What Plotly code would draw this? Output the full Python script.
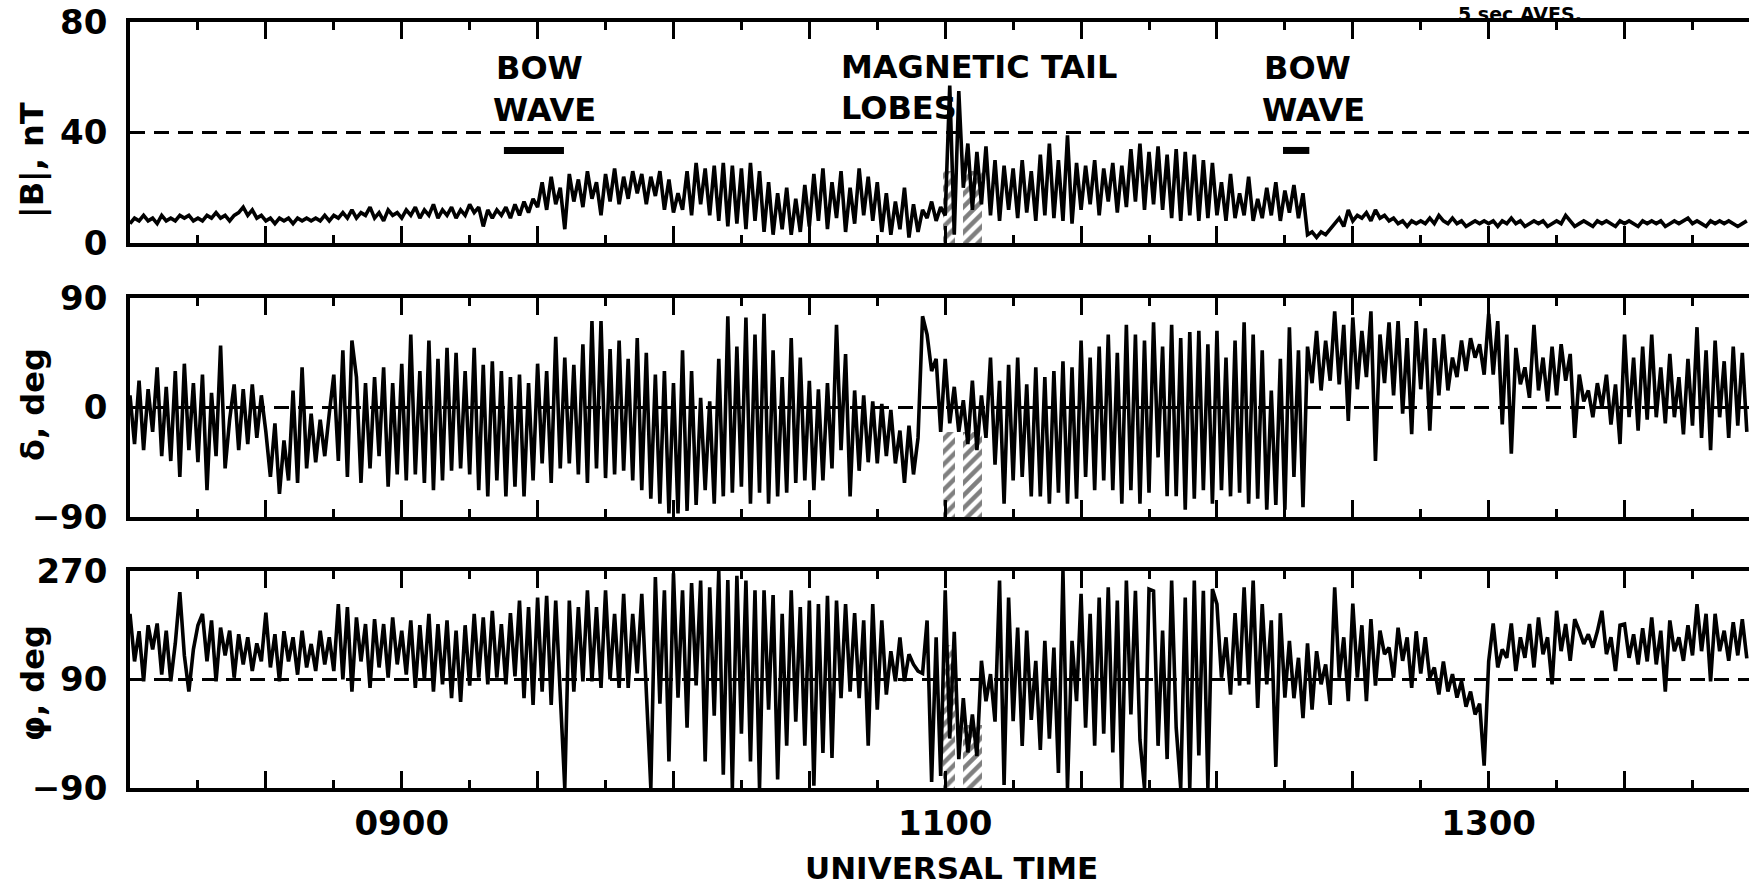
import numpy as np
import plotly.graph_objects as go

# ---------------- data ----------------
start_hour = 8.0          # 0800 UT, one value per minute
step_minutes = 1.0

# |B| in nT, one row per half hour (0800, 0830, ... 1330)
b_total = [
    7, 9, 8, 10, 8, 9, 7, 10, 8, 9, 8, 10, 9, 10, 8, 9, 8, 10, 9, 11, 9, 10, 8, 10, 11, 13, 10, 12, 9, 10,
    8, 9, 7, 9, 8, 9, 7, 9, 8, 9, 8, 9, 8, 10, 8, 10, 9, 11, 9, 12, 9, 11, 10, 13, 9, 11, 8, 12, 10, 11,
    9, 12, 10, 13, 9, 12, 10, 14, 9, 12, 10, 13, 9, 12, 10, 14, 11, 13, 6, 12, 9, 12, 10, 13, 9, 14, 10, 15, 11, 16,
    13, 22, 12, 24, 14, 20, 5, 25, 15, 23, 13, 26, 16, 22, 10, 25, 15, 27, 14, 24, 16, 26, 18, 25, 14, 24, 17, 26, 12, 23,
    11, 18, 12, 26, 10, 29, 14, 27, 10, 28, 8, 29, 6, 28, 7, 27, 5, 29, 8, 26, 4, 22, 3, 18, 5, 20, 3, 16, 4, 21,
    6, 25, 8, 27, 5, 22, 9, 26, 4, 20, 7, 27, 10, 24, 8, 22, 4, 18, 3, 15, 5, 20, 2, 14, 4, 12, 9, 15, 8, 13,
    10, 57, 3, 55, 20, 36, 12, 33, 14, 35, 10, 30, 8, 28, 12, 27, 9, 30, 11, 26, 8, 32, 10, 36, 9, 30, 8, 39, 7, 29,
    12, 28, 14, 30, 10, 27, 15, 29, 11, 28, 13, 34, 15, 36, 12, 33, 14, 35, 12, 32, 9, 34, 8, 33, 10, 32, 8, 30, 9, 29,
    10, 22, 8, 25, 9, 18, 10, 24, 8, 16, 9, 20, 10, 22, 8, 19, 11, 21, 9, 18, 3, 4, 2, 4, 3, 5, 7, 9, 6, 12,
    8, 10, 9, 11, 8, 12, 9, 10, 8, 9, 7, 8, 6, 8, 7, 8, 7, 9, 7, 10, 8, 7, 9, 7, 8, 6, 7, 8, 7, 8,
    7, 8, 6, 8, 7, 9, 7, 8, 6, 7, 8, 7, 8, 6, 7, 8, 7, 10, 8, 6, 7, 8, 7, 6, 8, 7, 8, 7, 6, 8,
    7, 8, 7, 6, 8, 7, 8, 7, 8, 6, 7, 8, 7, 8, 9, 7, 8, 7, 6, 8, 7, 8, 7, 8, 7, 6, 7, 8,
]

# delta (latitude angle), deg
delta = [
    10, -30, 22, -35, 15, -20, 33, -40, 17, -44, 30, -57, 36, -35, 20, -45, 27, -68, 12, -40, 51, -50, -10, 19, -35, 15, -30, 19, -25, 10,
    -20, -57, -13, -71, -27, -60, 14, -62, 33, -50, -5, -45, -10, -40, -5, 27, -44, 47, -57, 55, 25, -62, 20, -50, 25, -40, 33, -65, 20, -55,
    36, -60, 60, -55, 30, -62, 55, -68, 40, -60, 49, -52, 45, -50, 30, -55, 49, -68, 35, -73, 38, -60, 30, -73, 25, -65, 27, -73, 20, -60,
    36, -46, 30, -62, 58, -50, 41, -46, 35, -55, 52, -62, 71, -50, 71, -58, 48, -55, 55, -52, 40, -60, 57, -68, 45, -75, 27, -79, 30, -87,
    20, -87, 47, -85, 30, -80, 8, -68, 5, -79, 40, -73, 75, -70, 50, -65, 74, -79, 60, -70, 77, -79, 47, -73, 25, -70, 57, -62, 41, -60,
    22, -68, 15, -60, 20, -50, 68, -35, 44, -73, 14, -52, 10, -45, 5, -46, 3, -40, -2, -46, -19, -62, -15, -55, -25, 75, 60, 30, 40, -20,
    40, -13, 17, -20, 6, -30, 22, -35, 10, -25, 41, -47, 22, -79, 35, -60, 41, -57, 19, -73, 33, -73, 25, -79, 30, -70, 38, -79, 33, -75,
    55, -57, 41, -68, 50, -60, 60, -68, 45, -79, 68, -68, 60, -79, 55, -70, 70, -41, 50, -73, 68, -73, 57, -84, 62, -75, 63, -68, 52, -79,
    63, -68, 41, -73, 55, -70, 70, -79, 60, -75, 47, -84, 14, -80, 40, -84, 66, -57, 47, -82, 50, 20, 63, 14, 55, 22, 79, 19, 68, -11,
    74, 15, 63, 25, 79, -44, 60, 20, 70, 10, 71, -5, 57, -22, 71, 15, 65, -19, 57, 10, 60, 14, 41, 25, 55, 30, 57, 41, 52, 27,
    77, 27, 71, -14, 60, -38, 49, 19, 33, 8, 68, 14, 41, 5, 50, 10, 52, 22, 44, -25, 27, 5, 14, -8, 20, 0, 27, -14, 19, -30,
    60, -8, 41, -19, 50, -10, 60, -8, 33, -13, 44, -8, 25, -22, 40, -15, 66, -25, 47, -35, 55, -8, 38, -25, 50, -15, 45, -20,
]

# phi (longitude angle), deg
phi = [
    199, 120, 170, 87, 180, 140, 183, 98, 171, 87, 150, 235, 130, 70, 140, 180, 199, 120, 188, 87, 176, 130, 171, 93, 165, 115, 160, 104, 150, 120,
    201, 110, 165, 87, 170, 120, 160, 98, 171, 110, 149, 104, 171, 115, 160, 104, 215, 90, 210, 70, 193, 120, 182, 76, 190, 110, 182, 93, 193, 115,
    171, 98, 188, 76, 180, 90, 199, 70, 182, 82, 188, 59, 171, 53, 180, 80, 199, 93, 193, 82, 204, 93, 182, 82, 200, 95, 221, 59, 210, 48,
    226, 70, 229, 48, 221, 60, -90, 221, 70, 210, 87, 238, 87, 210, 76, 238, 90, 199, 76, 232, 76, 199, 100, 232, 80, -90, 260, 50, 238, -46,
    266, 60, 238, 10, 250, 80, 254, -46, 243, 30, 270, -68, 255, -90, 262, 0, 254, -46, 238, -90, 238, 40, 230, -76, 199, -20, 238, 20, 210, -20,
    221, -86, 215, -32, 229, -40, 221, 59, 215, 70, 200, 59, 188, -20, 215, 40, 188, 65, 137, 87, 160, 87, 132, 115, 104, 100, 188, -80, 160, -70,
    238, -8, 169, -42, 59, -31, 32, -37, 121, 54, 99, 20, 254, -85, 226, 21, 176, -20, 171, 23, 121, -27, 154, -8, 143, -65, 270, -90, 154, 54,
    232, 10, 199, -20, 226, 0, 243, -31, 221, -90, 254, 32, 237, -10, -90, 240, 237, -20, 171, -42, 254, 10, -90, 226, -90, 254, -36, 237, -90, 240,
    215, 93, 160, 65, 200, 80, 243, 82, 254, 43, 215, 82, 188, -55, 200, 60, 154, 59, 126, 26, 150, 40, 137, 82, 115, 48, 243, 93, 160, 54,
    216, 93, 180, 54, 190, 80, 171, 132, 143, 93, 176, 121, 160, 76, 170, 100, 160, 93, 110, 65, 120, 70, 99, 60, 87, 45, 70, 32, 50, -53,
    120, 183, 110, 140, 126, 183, 104, 160, 126, 182, 110, 193, 132, 160, 82, 204, 137, 182, 121, 190, 171, 149, 165, 143, 170, 204, 132, 160, 104, 180,
    182, 126, 165, 115, 175, 120, 193, 115, 171, 70, 188, 137, 160, 121, 180, 130, 215, 137, 199, 87, 199, 137, 171, 121, 185, 130, 190, 125,
]

# axis ticks
x_major_ticks = [8.0, 8.5, 9.0, 9.5, 10.0, 10.5, 11.0, 11.5, 12.0, 12.5, 13.0, 13.5]
x_major_text = ["", "", "0900", "", "", "", "1100", "", "", "", "1300", ""]
x_minor_ticks = [8.25, 8.75, 9.25, 9.75, 10.25, 10.75, 11.25, 11.75, 12.25, 12.75, 13.25, 13.75]
b_ticks = [0, 40, 80]
delta_ticks = [-90, 0, 90]
phi_ticks = [-90, 90, 270]
ref_levels = [40, 0, 90]          # dashed reference lines per panel

# hatched intervals (UT hours) and their heights per panel
hatch_start = [10.992, 11.065]
hatch_end = [11.036, 11.135]
hatch_top_b = [26, 26]
hatch_top_delta = [-20, -20]
hatch_top_phi = [148, 15]

# bow-wave crossing bars (UT hours) in |B| panel
bow_start = [9.376, 12.243]
bow_end = [9.597, 12.340]
bow_level = 33.5

# ---------------- figure ----------------
W, H = 1749, 891
def px(x):
    return x / W
def py(y):
    return 1 - y / H

FONT = "DejaVu Sans, sans-serif"
x_range = [8.0, 13.958]
x_dom = [px(130), 1.0]

def times(n):
    return [start_hour + i * step_minutes / 60.0 for i in range(n)]

fig = go.Figure()

panels = [
    ("x", "y", b_total, hatch_top_b, 0),
    ("x2", "y2", delta, hatch_top_delta, -90),
    ("x3", "y3", phi, hatch_top_phi, -90),
]

for xa, ya, vals, htop, hbase in panels:
    centers = [(s + e) / 2 for s, e in zip(hatch_start, hatch_end)]
    widths = [e - s for s, e in zip(hatch_start, hatch_end)]
    fig.add_trace(go.Bar(
        x=centers, width=widths, base=[hbase] * len(htop),
        y=[t - hbase for t in htop], xaxis=xa, yaxis=ya,
        marker=dict(color="white", line=dict(color="black", width=0),
                    pattern=dict(shape="/", fgcolor="black", bgcolor="white", size=9, solidity=0.5)),
        showlegend=False, hoverinfo="skip"))
    fig.add_trace(go.Scatter(
        x=times(len(vals)), y=vals, xaxis=xa, yaxis=ya, mode="lines",
        line=dict(color="black", width=3.6), showlegend=False))

for s, e in zip(bow_start, bow_end):
    fig.add_trace(go.Scatter(x=[s, e], y=[bow_level, bow_level], xaxis="x", yaxis="y",
                             mode="lines", line=dict(color="black", width=7), showlegend=False))

tickfont = dict(family=FONT, size=34, color="black", weight="bold")

def xaxis(anchor, labels):
    return dict(
        domain=x_dom, range=x_range, anchor=anchor, showgrid=False, zeroline=False,
        showline=True, linecolor="black", linewidth=3.5, mirror="ticks",
        ticks="inside", ticklen=17, tickwidth=3, tickcolor="black",
        tickvals=x_major_ticks, ticktext=x_major_text, showticklabels=labels,
        tickfont=tickfont, ticklabelstandoff=2,
        minor=dict(tickvals=x_minor_ticks, ticks="inside", ticklen=8, tickwidth=3, tickcolor="black"),
        automargin=False)

def yaxis(anchor, dom, rng, tv):
    return dict(
        domain=dom, range=rng, anchor=anchor, showgrid=False, zeroline=False,
        showline=True, linecolor="black", linewidth=3.5, mirror=False,
        ticks="", tickvals=tv, tickfont=tickfont, ticklabelstandoff=12, automargin=False)

fig.update_layout(
    width=W, height=H, autosize=False,
    margin=dict(l=0, r=0, t=0, b=0),
    paper_bgcolor="white", plot_bgcolor="white",
    barmode="overlay", bargap=0,
    xaxis=xaxis("y", False),
    xaxis2=xaxis("y2", False),
    xaxis3=xaxis("y3", True),
    yaxis=yaxis("x", [py(243), py(22)], [0, 80], b_ticks),
    yaxis2=yaxis("x2", [py(517), py(298)], [-90, 90], delta_ticks),
    yaxis3=yaxis("x3", [py(788), py(571)], [-90, 270], phi_ticks),
)

for (xa, ya, *_), lvl in zip(panels, ref_levels):
    fig.add_shape(type="line", xref=xa + " domain", yref=ya, x0=0, x1=1, y0=lvl, y1=lvl,
                  line=dict(color="black", width=2.8, dash="15px,9px"), layer="below")

def note(text, x, y, xanchor="left", angle=0, size=32, yanchor="middle"):
    fig.add_annotation(text=text, x=px(x), y=py(y), xref="paper", yref="paper",
                       xanchor=xanchor, yanchor=yanchor, showarrow=False, textangle=angle,
                       font=dict(family=FONT, size=size, color="black", weight="bold"))

note("5 sec AVES.", 1520, 1, xanchor="center", size=19, yanchor="top")
note("BOW", 494, 68)
note("WAVE", 491, 110)
note("MAGNETIC TAIL", 839, 67)
note("LOBES", 839, 108)
note("BOW", 1262, 68)
note("WAVE", 1260, 110)
note("UNIVERSAL TIME", 951, 868, xanchor="center", size=31)
note("|B|, nT", 33, 160, xanchor="center", angle=-90, size=32)
note("δ, deg", 33, 405, xanchor="center", angle=-90, size=32)
note("φ, deg", 33, 683, xanchor="center", angle=-90, size=32)

fig.write_html("out.html")
